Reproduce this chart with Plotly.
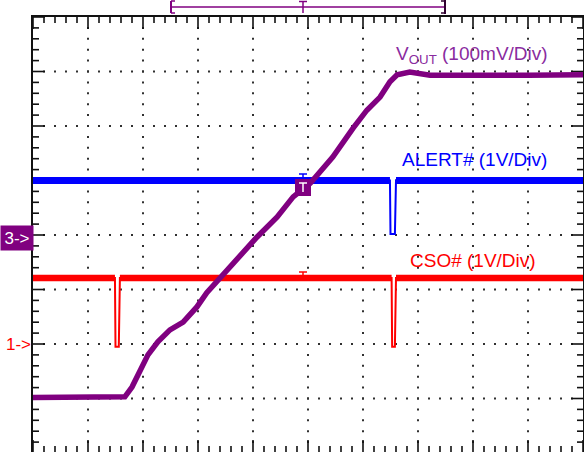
import numpy as np
import plotly.graph_objects as go

# ---------------- data (screen divisions: time 0..10, level -4..4) ----------------
vout_t = [0.00, 0.50, 1.00, 1.45, 1.67, 1.80, 1.95, 2.09, 2.27, 2.49, 2.73, 2.98,
          3.16, 3.40, 3.53, 3.82, 4.07, 4.44, 4.73, 5.04, 5.45, 5.82, 6.07, 6.31,
          6.49, 6.62, 6.85, 7.22, 8.00, 9.00, 10.00]
vout_v = [-2.98, -2.97, -2.98, -2.97, -2.97, -2.79, -2.48, -2.20, -1.96, -1.74, -1.60, -1.32,
          -1.06, -0.79, -0.68, -0.33, -0.04, 0.33, 0.70, 0.95, 1.43, 1.96, 2.29, 2.53,
          2.81, 2.94, 2.99, 2.93, 2.94, 2.93, 2.94]

alert_t = [0.00, 6.49, 6.50, 6.58, 6.60, 10.00]
alert_v = [1.00, 1.00, 0.02, 0.02, 1.00, 1.00]

cso_t = [0.00, 1.49, 1.50, 1.56, 1.58, 6.52, 6.53, 6.58, 6.60, 10.00]
cso_v = [-0.79, -0.79, -2.05, -2.05, -0.79, -0.79, -2.05, -2.05, -0.79, -0.79]

labels = ["V<sub>OUT</sub> (100mV/Div)", "ALERT# (1V/Div)", "CSO# (1V/Div)"]

PURPLE = "#800080"
BLUE = "#0000FF"
RED = "#FF0000"
FONT = "Liberation Sans, Arial, sans-serif"

W, H = 584, 452
ML, MR, MT, MB = 33, 1, 17, 0
PW, PH = W - ML - MR, H - MT - MB
Y_TOP = 4.0
Y_BOT = Y_TOP - PH / 54.5
XPX = PW / 10.0
YPX = PH / (Y_TOP - Y_BOT)


def px(xp):
    return (xp - ML) / PW


def py(yp):
    return (H - MB - yp) / PH


fig = go.Figure()

# dotted graticule
gx, gy = [], []
for yl in range(-3, 4):
    for xv in np.arange(0.2, 9.9, 0.2):
        gx.append(xv); gy.append(yl)
for xl in range(1, 10):
    for yv in np.arange(-3.8, 3.9, 0.2):
        gx.append(xl); gy.append(yv)
fig.add_trace(go.Scatter(x=gx, y=gy, mode="markers",
                         marker=dict(symbol="square", size=2, color="#303030", line=dict(width=0)),
                         hoverinfo="skip"))

# border ticks
tx, ty = [], []
for xv in np.arange(0, 10.001, 0.2):
    major = abs(xv - round(xv)) < 1e-6
    L = (12 if major else 6) / YPX
    tx += [xv, xv, None, xv, xv, None]
    ty += [Y_TOP, Y_TOP - L, None, Y_BOT, Y_BOT + L, None]
for yv in np.arange(-4, 4.001, 0.2):
    if yv < Y_BOT:
        continue
    major = abs(yv - round(yv)) < 1e-6
    L = (12 if major else 6) / XPX
    tx += [0, L, None, 10, 10 - L, None]
    ty += [yv, yv, None, yv, yv, None]
fig.add_trace(go.Scatter(x=tx, y=ty, mode="lines", line=dict(color="#111111", width=1.6),
                         hoverinfo="skip"))


def add_digital(t, v, color, thick):
    hi = max(v)
    fig.add_trace(go.Scatter(x=t, y=v, mode="lines", line=dict(color=color, width=2),
                             hoverinfo="skip"))
    vm = [val if abs(val - hi) < 0.1 else None for val in v]
    fig.add_trace(go.Scatter(x=t, y=vm, mode="lines", line=dict(color=color, width=thick),
                             hoverinfo="skip", connectgaps=False))


add_digital(cso_t, cso_v, RED, 6.5)
add_digital(alert_t, alert_v, BLUE, 7)

fig.add_trace(go.Scatter(x=vout_t, y=vout_v, mode="lines",
                         line=dict(color=PURPLE, width=5.5), hoverinfo="skip"))

shapes = []


def seg(x0, y0, x1, y1, color, w=1.5):
    shapes.append(dict(type="line", xref="paper", yref="paper",
                       x0=px(x0), y0=py(y0), x1=px(x1), y1=py(y1),
                       line=dict(color=color, width=w)))


# trigger bracket on top
seg(171, 7, 445, 7, PURPLE)
seg(171, 1, 171, 13, PURPLE, 2)
seg(171, 1, 175, 1, PURPLE, 1.5)
seg(171, 13, 175, 13, PURPLE, 1.5)
seg(445, 0, 445, 14, "#300030", 2)
seg(441, 1, 445, 1, "#300030", 1.5)
seg(441, 13, 445, 13, "#300030", 1.5)
seg(299, 1.5, 307, 1.5, PURPLE, 1.5)
seg(303, 1.5, 303, 13, PURPLE, 1.5)

# small T markers on channel lines
seg(299, 174, 307, 174, BLUE, 1.5)
seg(303, 174, 303, 178, BLUE, 1.5)
seg(299, 272, 307, 272, RED, 1.5)
seg(303, 272, 303, 276, RED, 1.5)

# purple trigger-level box with T
shapes.append(dict(type="rect", xref="paper", yref="paper",
                   x0=px(295), x1=px(311), y0=py(196), y1=py(179),
                   fillcolor=PURPLE, line=dict(width=0)))
seg(299, 183, 307, 183, "white", 1.5)
seg(303, 183, 303, 192, "white", 1.5)

annotations = [
    dict(x=px(472), y=py(55), xref="paper", yref="paper", text=labels[0], showarrow=False,
         font=dict(family=FONT, size=19, color="#8A2BA0"), xanchor="center", yanchor="middle"),
    dict(x=px(474.5), y=py(160), xref="paper", yref="paper", text=labels[1], showarrow=False,
         font=dict(family=FONT, size=19, color=BLUE), xanchor="center", yanchor="middle"),
    dict(x=px(472.5), y=py(260), xref="paper", yref="paper", text=labels[2], showarrow=False,
         font=dict(family=FONT, size=19, color=RED), xanchor="center", yanchor="middle"),
    dict(x=px(0), y=py(238), xref="paper", yref="paper", text="3->", showarrow=False,
         font=dict(family=FONT, size=17, color="white"), xanchor="left", yanchor="middle",
         bgcolor=PURPLE, width=32, height=24, borderpad=0, align="center"),
    dict(x=px(18), y=py(344), xref="paper", yref="paper", text="1->", showarrow=False,
         font=dict(family=FONT, size=17, color=RED), xanchor="center", yanchor="middle"),
]

fig.update_layout(
    width=W, height=H,
    margin=dict(l=ML, r=MR, t=MT, b=MB, pad=0),
    paper_bgcolor="white", plot_bgcolor="white",
    showlegend=False,
    shapes=shapes, annotations=annotations,
    xaxis=dict(range=[0, 10], showgrid=False, zeroline=False, showticklabels=False,
               ticks="", showline=True, linecolor="#111111", linewidth=2, mirror=True,
               fixedrange=True),
    yaxis=dict(range=[Y_BOT, Y_TOP], showgrid=False, zeroline=False, showticklabels=False,
               ticks="", showline=True, linecolor="#111111", linewidth=2, mirror=True,
               fixedrange=True),
)

fig.write_html("out.html",
               config={"displayModeBar": False, "staticPlot": True},
               post_script="document.body.style.margin='0';document.body.style.overflow='hidden';")
